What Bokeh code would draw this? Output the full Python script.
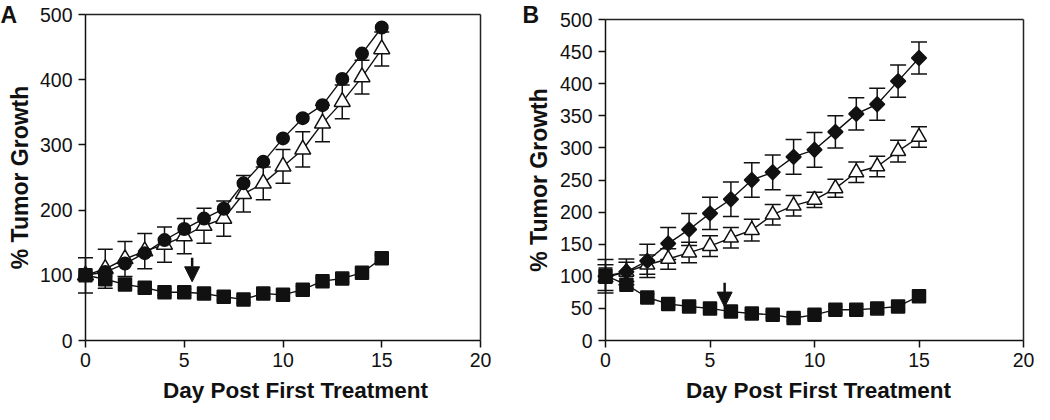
from bokeh.plotting import figure
from bokeh.layouts import row
from bokeh.models import (Range1d, FixedTicker, Whisker, TeeHead, ColumnDataSource,
                          Arrow, NormalHead, Label, LinearAxis)
from bokeh.embed import file_html
from bokeh.resources import INLINE
import math

days = [0, 1, 2, 3, 4, 5, 6, 7, 8, 9, 10, 11, 12, 13, 14, 15]
x_ticks = [0, 5, 10, 15, 20]
a_y_ticks = [0, 100, 200, 300, 400, 500]
b_y_ticks = [0, 50, 100, 150, 200, 250, 300, 350, 400, 450, 500]
x_title = "Day Post First Treatment"
y_title = "% Tumor Growth"

# Panel A
a_circle = [100, 105, 118, 134, 154, 171, 187, 202, 241, 274, 310, 341, 361, 401, 440, 480]
a_circle_err = [4, 4, 4, 4, 4, 4, 4, 4, 4, 4, 4, 4, 4, 4, 4, 4]
a_tri = [100, 110, 125, 137, 147, 160, 176, 187, 225, 241, 267, 293, 333, 366, 404, 447]
a_tri_err = [27, 30, 27, 27, 27, 27, 27, 27, 28, 25, 26, 27, 28, 26, 26, 26]
a_sq = [100, 94, 86, 81, 74, 74, 72, 67, 63, 72, 70, 78, 91, 95, 104, 126]
a_sq_err = [5, 5, 5, 5, 5, 5, 5, 5, 5, 5, 5, 5, 5, 5, 5, 5]
a_arrow = (5.4, 127, 90)

# Panel B
b_dia = [100, 107, 124, 151, 173, 198, 220, 250, 262, 286, 297, 325, 353, 368, 404, 440]
b_dia_err = [26, 20, 26, 25, 25, 25, 27, 27, 27, 27, 27, 25, 25, 25, 25, 25]
b_tri = [98, 107, 118, 127, 137, 147, 160, 172, 196, 210, 219, 237, 262, 271, 295, 317]
b_tri_err = [20, 15, 15, 16, 16, 16, 16, 17, 16, 16, 12, 14, 16, 16, 17, 16]
b_sq = [101, 87, 67, 57, 53, 50, 45, 42, 40, 35, 40, 48, 48, 50, 53, 69]
b_sq_err = [12, 5, 5, 5, 5, 5, 5, 5, 5, 5, 5, 5, 5, 5, 5, 5]
b_arrow = (5.7, 90, 52)

FONT = "Liberation Sans"
INK = "#111111"
H = 404
XLAB_BASE = 390


def make_fig(W, x0px, x20px, y0px, y500px, yticks, letter, letter_x, ylab_x, xlab_x):
    sx = (x20px - x0px) / 20.0
    sy = (y0px - y500px) / 500.0
    p = figure(width=W, height=H, output_backend="svg", toolbar_location=None,
               x_range=Range1d(-x0px / sx, (W - x0px) / sx),
               y_range=Range1d(-(H - y0px) / sy, 500 + y500px / sy),
               min_border=0, min_border_left=0, min_border_right=0,
               min_border_top=0, min_border_bottom=0)
    p.title.visible = False
    p.xgrid.visible = False
    p.ygrid.visible = False
    p.outline_line_color = None
    p.background_fill_color = "white"
    p.border_fill_color = "white"
    p.xaxis.ticker = FixedTicker(ticks=x_ticks)
    p.yaxis.ticker = FixedTicker(ticks=yticks)
    p.xaxis.fixed_location = 0
    p.yaxis.fixed_location = 0
    p.xaxis.bounds = (0, 20)
    p.yaxis.bounds = (0, 500)
    for ax in (p.xaxis[0], p.yaxis[0]):
        ax.level = "underlay"
        ax.major_tick_in = 0
        ax.major_tick_out = 7
        ax.minor_tick_line_color = None
        ax.axis_line_color = INK
        ax.axis_line_width = 1.5
        ax.major_tick_line_color = INK
        ax.major_tick_line_width = 1.5
        ax.major_label_text_font = FONT
        ax.major_label_text_font_size = "19.5px"
        ax.major_label_text_color = INK
        ax.major_label_standoff = 5
    p.yaxis.major_label_standoff = 6
    # top and right borders of the box
    for side, loc, bnds in (("above", 500, (0, 20)), ("right", 20, (0, 500))):
        bax = LinearAxis(fixed_location=loc, bounds=bnds, ticker=FixedTicker(ticks=[]),
                         major_tick_line_color=None, minor_tick_line_color=None,
                         major_label_text_font_size="0px", axis_line_color="#222222",
                         axis_line_width=1.5, level="underlay")
        p.add_layout(bax, side)
    # texts (screen units: from frame left / frame bottom; the frame fills the canvas)
    p.add_layout(Label(x=letter_x, y=H - 1, x_units="screen", y_units="screen",
                       text=letter, text_font=FONT, text_font_size="23px",
                       text_font_style="bold", text_baseline="top", text_align="left",
                       text_color=INK))
    p.add_layout(Label(x=ylab_x, y=H - (y0px + y500px) / 2.0, x_units="screen", y_units="screen",
                       text=y_title, angle=math.pi / 2, text_font=FONT, text_font_size="23px",
                       text_font_style="bold", text_baseline="alphabetic", text_align="center",
                       text_color=INK))
    p.add_layout(Label(x=xlab_x, y=H - XLAB_BASE, x_units="screen", y_units="screen",
                       text=x_title, text_font=FONT, text_font_size="22.5px",
                       text_font_style="bold", text_baseline="alphabetic", text_align="center",
                       text_color=INK))
    return p


def add_series(p, y, err, marker, size, fill, cap, angle=0.0):
    src = ColumnDataSource(dict(x=days, y=y,
                                u=[v + e for v, e in zip(y, err)],
                                l=[v - e for v, e in zip(y, err)]))
    w = Whisker(source=src, base="x", upper="u", lower="l", dimension="height",
                line_color=INK, line_width=1.5,
                upper_head=TeeHead(size=cap, line_width=1.5, line_color=INK),
                lower_head=TeeHead(size=cap, line_width=1.5, line_color=INK))
    p.add_layout(w)
    p.line("x", "y", source=src, line_color=INK, line_width=1.4)
    return src, marker, size, fill, angle


def draw_markers(p, items):
    for src, marker, size, fill, angle in items:
        p.scatter("x", "y", source=src, marker=marker, size=size, angle=angle,
                  fill_color=fill, line_color=INK, line_width=1.5)


def add_arrow(p, a):
    x, y0, y1 = a
    p.add_layout(Arrow(x_start=x, y_start=y0, x_end=x, y_end=y1,
                       line_color=INK, line_width=2.5,
                       end=NormalHead(size=15, fill_color=INK, line_color=INK)))


# Panel A figure (canvas x 0..520 of the page)
pa = make_fig(520, 85, 480, 340, 14, a_y_ticks, "A", 0, 19, 295)
items = []
items.append(add_series(pa, a_tri, a_tri_err, "triangle", 16, "white", 15))
items.append(add_series(pa, a_circle, a_circle_err, "circle", 12.5, INK, 12))
items.append(add_series(pa, a_sq, a_sq_err, "square", 13, INK, 14))
draw_markers(pa, items)
add_arrow(pa, a_arrow)

# Panel B figure (canvas x 520..1034 of the page)
pb = make_fig(514, 85, 503, 340, 19, b_y_ticks, "B", 2, 18, 298)
items = []
items.append(add_series(pb, b_tri, b_tri_err, "triangle", 15, "white", 16))
items.append(add_series(pb, b_dia, b_dia_err, "square", 10.5, INK, 16, angle=math.pi / 4))
items.append(add_series(pb, b_sq, b_sq_err, "square", 13, INK, 14))
draw_markers(pb, items)
add_arrow(pb, b_arrow)

layout = row(pa, pb, spacing=0)
open("out.html", "w").write(file_html(layout, INLINE))
